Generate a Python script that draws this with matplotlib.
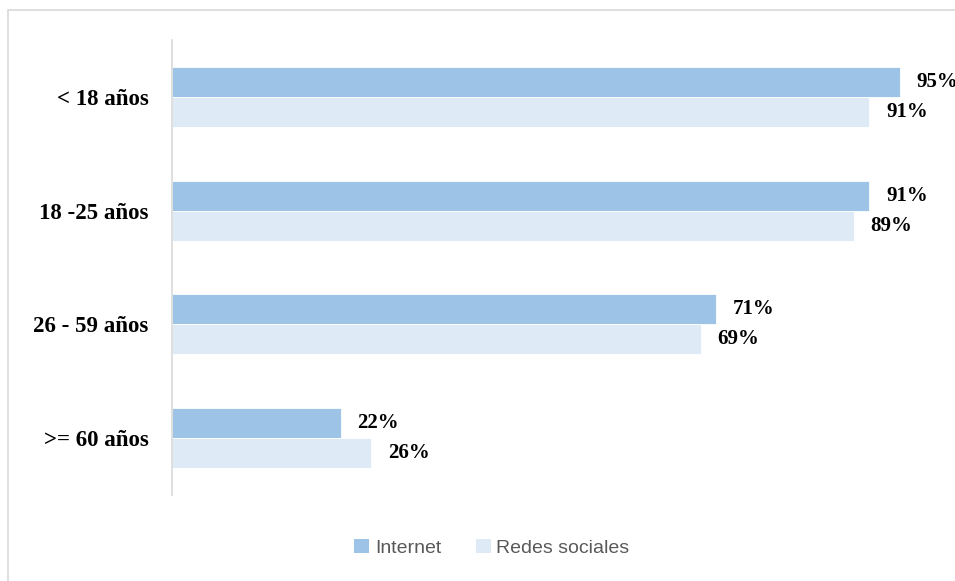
import matplotlib.pyplot as plt
from matplotlib.patches import Rectangle, Patch

# Porcentaje de uso por grupo de edad
grupos = ["< 18 años", "18 -25 años", "26 - 59 años", ">= 60 años"]
internet = [95, 91, 71, 22]
redes_sociales = [91, 89, 69, 26]

COLOR_INTERNET = "#9DC3E6"
COLOR_REDES = "#DEEBF7"

W, H = 955, 581
fig = plt.figure(figsize=(W / 100, H / 100), dpi=100)

# marco gris claro alrededor del gráfico
fig.patches.append(Rectangle((8 / W, -0.1), 2, 1.1 - 10 / H, transform=fig.transFigure,
                             fill=False, edgecolor="#D9D9D9", linewidth=1.2))

ax = fig.add_axes([172 / W, 1 - 495 / H, 766 / W, 455 / H])

bar_h = 30 / 114
ys = list(range(len(grupos)))
y_int = [y - bar_h / 2 for y in ys]
y_red = [y + bar_h / 2 for y in ys]

ax.barh(y_int, internet, height=bar_h, color=COLOR_INTERNET, edgecolor="white", linewidth=0.6)
ax.barh(y_red, redes_sociales, height=bar_h, color=COLOR_REDES, edgecolor="white", linewidth=0.6)

label_font = dict(family="Liberation Serif", weight="bold", size=15)
for y, v in zip(y_int, internet):
    ax.text(v + 2.2, y, f"{v}%", va="center", ha="left", clip_on=False, **label_font)
for y, v in zip(y_red, redes_sociales):
    ax.text(v + 2.2, y, f"{v}%", va="center", ha="left", clip_on=False, **label_font)

ax.set_xlim(0, 100)
ax.set_ylim(len(grupos) - 0.5, -0.5)
ax.set_yticks(ys)
ax.set_yticklabels(grupos, fontfamily="Liberation Serif", fontweight="bold", fontsize=16.5)
ax.tick_params(axis="y", length=0, pad=17)
ax.set_xticks([])

for side in ("top", "right", "bottom"):
    ax.spines[side].set_visible(False)
ax.spines["left"].set_color("#D9D9D9")
ax.spines["left"].set_linewidth(1.2)

handles = [Patch(facecolor=COLOR_INTERNET, label="Internet"),
           Patch(facecolor=COLOR_REDES, label="Redes sociales")]
fig.legend(handles=handles, loc="center", bbox_to_anchor=(492 / W, 1 - 548 / H), ncol=2,
           frameon=False, handlelength=0.75, handleheight=0.75, handletextpad=0.3,
           columnspacing=1.8, prop={"family": "Liberation Sans", "size": 14},
           labelcolor="#595959")

fig.savefig("out.png", dpi=100)
